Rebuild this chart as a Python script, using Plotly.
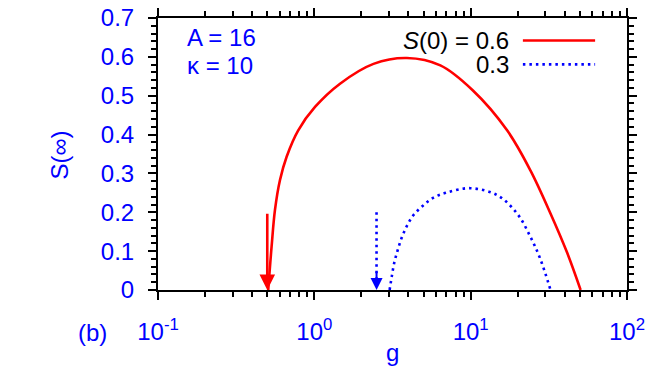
import math

import plotly.graph_objects as go

# S(infinity) vs g, A = 16, kappa = 10
g_06 = [0.507, 0.533, 0.56, 0.603, 0.665, 0.789, 1.01, 1.46, 2.39, 3.91, 6.4, 10.3, 17.1, 24.1, 32.4, 41.5, 50.5]
s_06 = [0.0, 0.112, 0.206, 0.283, 0.343, 0.411, 0.471, 0.531, 0.582, 0.597, 0.578, 0.514, 0.411, 0.308, 0.197, 0.095, 0.0]

g_03 = [3.03, 3.13, 3.24, 3.41, 3.61, 3.91, 4.31, 4.95, 5.79, 7.06, 9.96, 14.8, 19.8, 24.1, 28.0, 32.4]
s_03 = [0.0, 0.035, 0.069, 0.102, 0.133, 0.165, 0.193, 0.217, 0.238, 0.251, 0.262, 0.244, 0.197, 0.137, 0.078, 0.0]

arrow_g = [0.5, 2.5]
arrow_top = 0.2

x_ticks = [0.1, 1, 10, 100]
x_ticktext = ["10<sup>-1</sup>", "10<sup>0</sup>", "10<sup>1</sup>", "10<sup>2</sup>"]

RED = "#ff0000"
BLUE = "#0000ff"
FONT = "Liberation Sans, Arial, sans-serif"
DOTS = "2.5px,4px"

fig = go.Figure()
fig.add_scatter(x=g_06, y=s_06, mode="lines", line=dict(color=RED, width=2.6, shape="spline", smoothing=1.0))
fig.add_scatter(x=g_03, y=s_03, mode="lines", line=dict(color=BLUE, width=2.6, dash=DOTS, shape="spline", smoothing=1.0))

# blue dotted arrow shaft
fig.add_scatter(x=[arrow_g[1], arrow_g[1]], y=[arrow_top, 0.02], mode="lines",
                line=dict(color=BLUE, width=2.6, dash=DOTS))

# arrows
fig.add_annotation(x=math.log10(arrow_g[0]), y=0, ax=math.log10(arrow_g[0]), ay=arrow_top,
                   xref="x", yref="y", axref="x", ayref="y", text="", showarrow=True,
                   arrowhead=2, arrowsize=1.2, arrowwidth=2.6, arrowcolor=RED)
fig.add_annotation(x=math.log10(arrow_g[1]), y=0, ax=math.log10(arrow_g[1]), ay=0.05,
                   xref="x", yref="y", axref="x", ayref="y", text="", showarrow=True,
                   arrowhead=2, arrowsize=1.2, arrowwidth=2, arrowcolor=BLUE)

ann_font = dict(family=FONT, size=24, color=BLUE)
fig.add_annotation(x=0.057, y=0.9285, xref="paper", yref="paper", text="A = 16",
                   showarrow=False, xanchor="left", yanchor="middle", font=ann_font)
fig.add_annotation(x=0.057, y=0.826, xref="paper", yref="paper", text="κ = 10",
                   showarrow=False, xanchor="left", yanchor="middle", font=ann_font)
fig.add_annotation(x=-0.1395, y=-0.1565, xref="paper", yref="paper", text="(b)",
                   showarrow=False, xanchor="center", yanchor="middle", font=ann_font)
fig.add_annotation(x=0.5, y=-0.23, xref="paper", yref="paper", text="g",
                   showarrow=False, xanchor="center", yanchor="middle", font=ann_font)
fig.add_annotation(x=-0.21, y=0.496, xref="paper", yref="paper", text="S(∞)", textangle=-90,
                   showarrow=False, xanchor="center", yanchor="middle", font=ann_font)

# legend, text on the left and sample on the right
leg_font = dict(family=FONT, size=24, color="black")
fig.add_annotation(x=0.752, y=0.9175, xref="paper", yref="paper", text="<i>S</i>(0) = 0.6",
                   showarrow=False, xanchor="right", yanchor="middle", font=leg_font)
fig.add_annotation(x=0.752, y=0.8295, xref="paper", yref="paper", text="0.3",
                   showarrow=False, xanchor="right", yanchor="middle", font=leg_font)
fig.add_shape(type="line", xref="paper", yref="paper", x0=0.778, x1=0.932, y0=0.9175, y1=0.9175,
              line=dict(color=RED, width=2.6))
fig.add_shape(type="line", xref="paper", yref="paper", x0=0.778, x1=0.932, y0=0.8295, y1=0.8295,
              line=dict(color=BLUE, width=2.6, dash=DOTS))

axis_common = dict(
    showline=True, linecolor="black", linewidth=2, mirror="allticks",
    ticks="outside", ticklen=8, tickwidth=1.5, tickcolor="black",
    showgrid=False, zeroline=False, automargin=False, ticklabeloverflow="allow",
    tickfont=dict(family=FONT, size=24, color=BLUE),
)
fig.update_xaxes(type="log", range=[-1, 2], tickvals=x_ticks, ticktext=x_ticktext,
                 minor=dict(ticks="outside", ticklen=5, tickwidth=1.5, tickcolor="black", dtick="D1", showgrid=False),
                 ticklabelstandoff=11, **axis_common)
fig.update_yaxes(range=[0, 0.7], dtick=0.1, tickformat=".1~f",
                 minor=dict(ticks="outside", ticklen=5, tickwidth=1.5, tickcolor="black", dtick=0.02, showgrid=False),
                 ticklabelstandoff=9, **axis_common)

# the page puts the figure 8px in from the corner, so margins are shifted to compensate
fig.update_layout(
    width=664, height=380,
    margin=dict(l=150, r=45, t=10, b=98),
    plot_bgcolor="white", paper_bgcolor="white",
    showlegend=False,
    font=dict(family=FONT, size=24, color=BLUE),
)

fig.write_html("out.html")
